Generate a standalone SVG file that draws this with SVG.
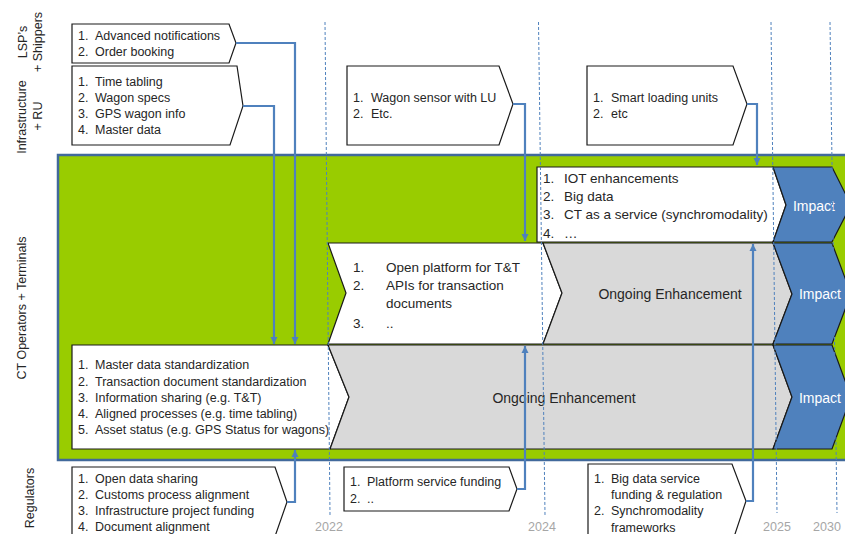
<svg xmlns="http://www.w3.org/2000/svg" width="845" height="534" viewBox="0 0 845 534">
<defs>
<style>
text{font-family:"Liberation Sans",Arial,sans-serif;fill:#262626}
.t{font-size:12.5px}
.m{font-size:13.5px}
.lab{font-size:12.5px;text-anchor:middle}
.yr{font-size:12.5px;fill:#a6a6a6;text-anchor:middle}
.big{font-size:14px;text-anchor:middle}
.imp{font-size:14px;text-anchor:middle;fill:#ffffff}
.box{fill:#ffffff;stroke:#1a1a1a;stroke-width:1.2}
.gray{fill:#d9d9d9;stroke:#1a1a1a;stroke-width:1.2}
.impact{fill:#4f81bd;stroke:#1a1a1a;stroke-width:1.2}
.conn{fill:none;stroke:#4f81bd;stroke-width:2.2;marker-end:url(#ah)}
.dash{stroke:#4f81bd;stroke-width:1;stroke-dasharray:3 2;fill:none}
</style>
<marker id="ah" viewBox="0 0 10 10" refX="10" refY="5" markerWidth="7" markerHeight="10" markerUnits="userSpaceOnUse" orient="auto">
<path d="M0,0 L10,5 L0,10 z" fill="#4f81bd"/>
</marker>
</defs>

<g id="lane-labels">
<text class="lab" transform="translate(27,42) rotate(-90)">LSP’s</text>
<text class="lab" transform="translate(42,42) rotate(-90)">+ Shippers</text>
<text class="lab" transform="translate(26,117) rotate(-90)">Infrastructure</text>
<text class="lab" transform="translate(42,116) rotate(-90)">+ RU</text>
<text class="lab" transform="translate(26,308) rotate(-90)">CT Operators + Terminals</text>
<text class="lab" transform="translate(34,498) rotate(-90)">Regulators</text>
</g>

<g id="ct-frame">
<rect x="58" y="155" width="800" height="305" fill="#99cc00" stroke="#41699b" stroke-width="2.5"/>
</g>

<g id="lsp-box">
<polygon class="box" points="72,24 229,24 236,43 229,63 72,63"/>
<text class="t" x="78" y="40">1.</text><text class="t" x="95" y="40">Advanced notifications</text>
<text class="t" x="78" y="56">2.</text><text class="t" x="95" y="56">Order booking</text>
</g>

<g id="infra-box">
<polygon class="box" points="72,66 237,66 243,106 230,145 72,145"/>
<text class="t" x="78" y="86">1.</text><text class="t" x="95" y="86">Time tabling</text>
<text class="t" x="78" y="102">2.</text><text class="t" x="95" y="102">Wagon specs</text>
<text class="t" x="78" y="118">3.</text><text class="t" x="95" y="118">GPS wagon info</text>
<text class="t" x="78" y="134">4.</text><text class="t" x="95" y="134">Master data</text>
</g>

<g id="wagon-sensor-box">
<polygon class="box" points="347,66 499,66 513,104 499,145 347,145"/>
<text class="t" x="353" y="102">1.</text><text class="t" x="371" y="102">Wagon sensor with LU</text>
<text class="t" x="353" y="118">2.</text><text class="t" x="371" y="118">Etc.</text>
</g>

<g id="smart-loading-box">
<polygon class="box" points="587,66 733,66 747,104 733,145 587,145"/>
<text class="t" x="593" y="102">1.</text><text class="t" x="611" y="102">Smart loading units</text>
<text class="t" x="593" y="118">2.</text><text class="t" x="611" y="118">etc</text>
</g>

<g id="iot-box">
<polygon class="box" points="537,167 773,167 786,205 773,242 537,242"/>
<text class="m" x="543" y="183">1.</text><text class="m" x="564" y="183">IOT enhancements</text>
<text class="m" x="543" y="201">2.</text><text class="m" x="564" y="201">Big data</text>
<text class="m" x="543" y="219">3.</text><text class="m" x="564" y="219">CT as a service (synchromodality)</text>
<text class="m" x="543" y="238">4.</text><text class="m" x="564" y="238">…</text>
</g>

<g id="impact-1">
<polygon class="impact" points="773,167 832,167 851,205 832,242 773,242 786,205"/>
<text class="imp" x="814" y="211">Impact</text>
</g>

<g id="open-platform-box">
<polygon class="box" points="328,243 543,243 562,293 543,344 328,344 346,293"/>
<text class="m" x="353" y="272">1.</text><text class="m" x="386" y="272">Open platform for T&amp;T</text>
<text class="m" x="353" y="290">2.</text><text class="m" x="386" y="290">APIs for transaction</text>
<text class="m" x="386" y="308">documents</text>
<text class="m" x="353" y="328">3.</text><text class="m" x="386" y="328">..</text>
</g>

<g id="ongoing-2">
<polygon class="gray" points="543,243 773,243 792,294 773,344 543,344 562,293"/>
<text class="big" x="670" y="299">Ongoing Enhancement</text>
</g>

<g id="impact-2">
<polygon class="impact" points="773,243 832,243 851,294 832,344 773,344 792,294"/>
<text class="imp" x="820" y="299">Impact</text>
</g>

<g id="master-box">
<polygon class="box" points="72,345 328,345 349,397 330,449 72,449"/>
<text class="t" x="78" y="369">1.</text><text class="t" x="95" y="369">Master data standardization</text>
<text class="t" x="78" y="386">2.</text><text class="t" x="95" y="386">Transaction document standardization</text>
<text class="t" x="78" y="402">3.</text><text class="t" x="95" y="402">Information sharing (e.g. T&amp;T)</text>
<text class="t" x="78" y="418">4.</text><text class="t" x="95" y="418">Aligned processes (e.g. time tabling)</text>
<text class="t" x="78" y="434">5.</text><text class="t" x="95" y="434">Asset status (e.g. GPS Status for wagons)</text>
</g>

<g id="ongoing-3">
<polygon class="gray" points="328,345 773,345 792,397 773,449 330,449 349,397"/>
<text class="big" x="564" y="403">Ongoing Enhancement</text>
</g>

<g id="impact-3">
<polygon class="impact" points="773,345 832,345 851,397 832,449 773,449 792,397"/>
<text class="imp" x="820" y="403">Impact</text>
</g>

<g id="regulators-box">
<polygon class="box" points="72,467 275,467 287,502 272,545 72,545"/>
<text class="t" x="78" y="483">1.</text><text class="t" x="95" y="483">Open data sharing</text>
<text class="t" x="78" y="499">2.</text><text class="t" x="95" y="499">Customs process alignment</text>
<text class="t" x="78" y="515">3.</text><text class="t" x="95" y="515">Infrastructure  project funding</text>
<text class="t" x="78" y="531">4.</text><text class="t" x="95" y="531">Document alignment</text>
</g>

<g id="platform-funding-box">
<polygon class="box" points="344,467 509,467 517,489 509,511 344,511"/>
<text class="t" x="350" y="486">1.</text><text class="t" x="367" y="486">Platform service funding</text>
<text class="t" x="350" y="503">2.</text><text class="t" x="367" y="503">..</text>
</g>

<g id="bigdata-funding-box">
<polygon class="box" points="588,464 732,464 746,501 733,540 588,540"/>
<text class="t" x="594" y="483">1.</text><text class="t" x="611" y="483">Big data service</text>
<text class="t" x="611" y="499">funding &amp; regulation</text>
<text class="t" x="594" y="515">2.</text><text class="t" x="611" y="515">Synchromodality</text>
<text class="t" x="611" y="532">frameworks</text>
</g>

<g id="timeline">
<line class="dash" x1="325" y1="22" x2="330" y2="515"/>
<line class="dash" x1="538.5" y1="22" x2="545" y2="515"/>
<line class="dash" x1="771" y1="22" x2="777" y2="513"/>
<line class="dash" x1="830" y1="22" x2="837" y2="513"/>
<text class="yr" x="329" y="531">2022</text>
<text class="yr" x="542" y="531">2024</text>
<text class="yr" x="777" y="531">2025</text>
<text class="yr" x="827" y="531">2030</text>
</g>

<g id="connectors">
<path class="conn" d="M236,43 H295 V344"/>
<path class="conn" d="M243,106 H274 V344"/>
<path class="conn" d="M513,104 H525 V241"/>
<path class="conn" d="M747,104 H757 V165"/>
<path class="conn" d="M287,502 H295 V450"/>
<path class="conn" d="M517,489 H525 V346"/>
<path class="conn" d="M746,501 H753 V244"/>
</g>
</svg>
